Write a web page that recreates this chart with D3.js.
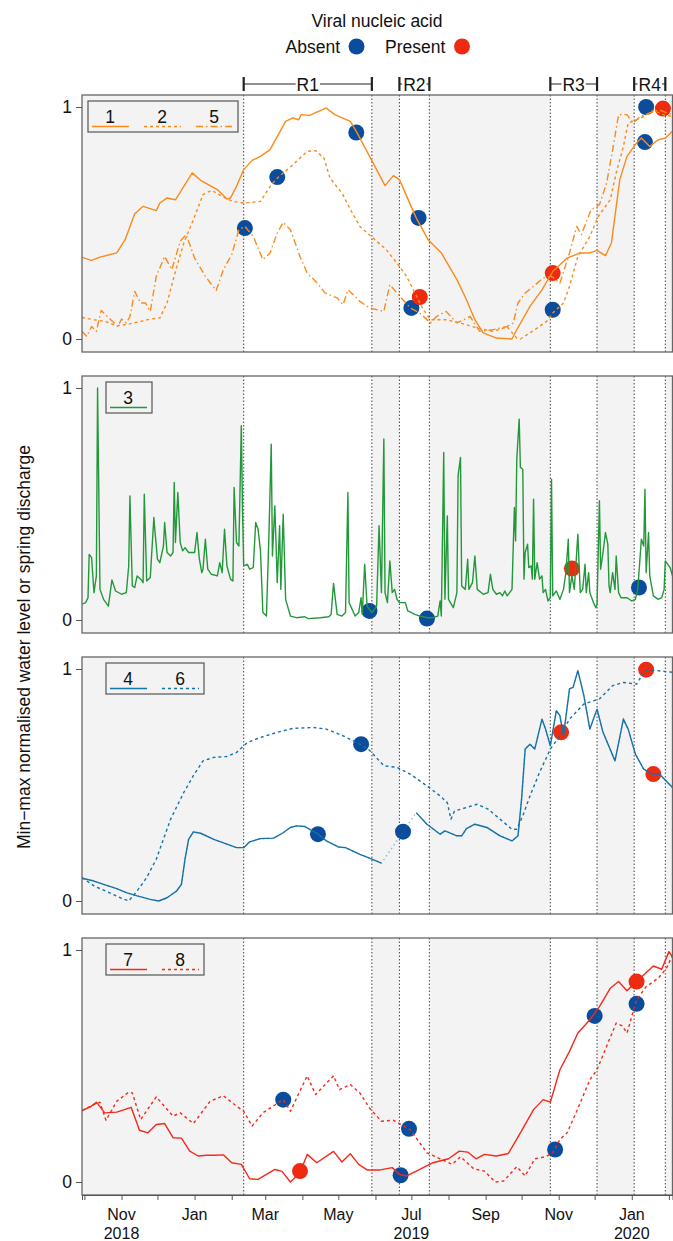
<!DOCTYPE html>
<html>
<head>
<meta charset="utf-8">
<script src="https://cdn.jsdelivr.net/npm/d3@7"></script>
<style>
  body { margin: 0; background: #fff; }
  svg { display: block; font-family: "Liberation Sans", Arial, sans-serif; }
</style>
</head>
<body>
<div id="chart"></div>
<script>
// all days are counted from 1 Oct 2018, values are min-max normalised
const series1 = [[-2,.352],[6,.339],[13,.353],[27,.371],[34,.428],[42,.54],[49,.572],[60,.553],[63,.586],[69,.608],[76,.6],[90,.716],[97,.684],[111,.644],[119,.603],[122,.608],[127,.658],[133,.73],[140,.77],[147,.787],[155,.816],[168,.938],[174,.953],[179,.945],[181,.967],[188,.964],[202,.996],[209,.967],[222,.938],[227,.895],[241,.759],[251,.661],[258,.704],[263,.687],[277,.522],[287,.428],[298,.371],[311,.256],[319,.169],[326,.083],[333,.026],[344,.004],[357,0],[361,.04],[372,.141],[382,.212],[391,.291],[403,.349],[414,.371],[422,.371],[428,.382],[435,.359],[440,.414],[447,.687],[453,.787],[461,.845],[465,.866],[472,.83],[479,.859],[485,.866],[491,.895]];
const series2 = [[-2,.093],[8,.083],[17,.076],[27,.057],[35,.062],[47,.076],[55,.086],[63,.091],[69,.155],[76,.291],[83,.414],[91,.514],[99,.622],[106,.641],[116,.612],[124,.593],[133,.586],[147,.593],[156,.665],[162,.698],[174,.751],[186,.809],[193,.812],[200,.78],[205,.694],[215,.629],[223,.55],[230,.485],[241,.435],[252,.385],[262,.32],[269,.27],[276,.198],[283,.126],[289,.083],[302,.083],[314,.069],[328,.047],[341,.033],[353,.052],[361,.004],[364,0],[376,.04],[386,.076],[391,.112],[400,.155],[405,.227],[412,.356],[422,.442],[429,.528],[439,.6],[444,.716],[450,.83],[454,.931],[461,.945],[467,.959],[475,.985],[483,.967],[491,.959]];
const series5 = [[-2,.033],[2,.011],[6,.054],[10,.033],[14,.123],[22,.083],[28,.054],[31,.086],[35,.069],[38,.097],[42,.205],[47,.155],[51,.155],[55,.119],[60,.27],[67,.356],[73,.299],[80,.421],[85,.45],[92,.349],[101,.27],[110,.209],[116,.299],[123,.363],[129,.471],[134,.485],[141,.442],[149,.342],[155,.371],[161,.457],[166,.503],[172,.471],[180,.356],[186,.284],[194,.244],[201,.198],[211,.177],[216,.148],[220,.212],[226,.184],[230,.162],[238,.134],[250,.119],[255,.234],[261,.198],[272,.134],[280,.112],[289,.069],[294,.097],[302,.119],[311,.069],[322,.097],[330,.033],[341,.04],[353,.054],[358,.069],[362,.155],[368,.198],[375,.227],[383,.263],[390,.27],[397,.241],[405,.371],[411,.485],[415,.45],[423,.557],[430,.579],[436,.672],[441,.816],[446,.967],[453,.967],[458,.931],[464,.959],[472,.974],[480,.987],[491,.967]];
const series3 = [[-2,.068],[1,.075],[3,.096],[4,.283],[6,.269],[8,.118],[10,.19],[11,1],[13,.132],[16,.089],[20,.06],[23,.173],[26,.125],[31,.111],[35,.118],[37,.233],[38,.535],[40,.147],[42,.14],[44,.19],[47,.176],[49,.161],[50,.542],[52,.168],[55,.183],[58,.442],[59,.377],[61,.262],[63,.247],[66,.319],[67,.42],[69,.291],[72,.276],[74,.291],[75,.593],[76,.334],[78,.55],[80,.334],[82,.298],[84,.312],[87,.291],[92,.291],[94,.377],[96,.262],[98,.204],[99,.219],[101,.348],[103,.219],[106,.197],[111,.19],[113,.247],[115,.204],[117,.391],[119,.233],[122,.176],[124,.168],[125,.571],[127,.334],[129,.319],[131,.837],[132,.478],[133,.233],[136,.24],[138,.219],[141,.226],[143,.42],[145,.391],[147,.298],[149,.032],[152,.017],[154,.355],[156,.758],[157,.276],[159,.492],[161,.161],[163,.406],[164,.132],[166,.456],[168,.089],[172,.017],[177,.01],[184,.014],[187,.006],[197,.01],[204,.014],[206,.024],[208,.158],[211,.024],[215,.017],[218,.032],[220,.55],[221,.075],[226,.017],[229,.032],[231,.096],[232,.024],[234,.24],[236,.06],[238,.046],[240,.032],[244,.06],[246,.406],[248,.118],[250,.78],[251,.118],[253,.075],[255,.255],[257,.118],[259,.132],[261,.089],[263,.075],[268,.075],[270,.039],[276,.024],[280,.017],[286,.01],[291,.01],[295,.017],[297,.082],[298,.017],[300,.722],[301,.089],[303,.449],[304,.089],[308,.053],[311,.118],[312,.622],[314,.701],[315,.147],[318,.132],[320,.262],[321,.132],[324,.161],[326,.276],[328,.132],[333,.111],[337,.118],[339,.197],[341,.132],[344,.111],[347,.118],[349,.104],[351,.125],[353,.104],[357,.132],[359,.485],[360,.341],[361,.694],[363,.866],[364,.658],[366,.65],[367,.176],[368,.291],[370,.327],[371,.226],[373,.233],[374,.176],[375,.521],[376,.176],[378,.247],[380,.176],[382,.19],[383,.118],[385,.132],[387,.082],[389,.096],[390,.607],[391,.104],[394,.125],[397,.089],[400,.132],[402,.204],[404,.348],[405,.118],[407,.19],[409,.132],[412,.37],[414,.118],[416,.132],[418,.24],[419,.118],[421,.204],[422,.118],[425,.075],[427,.053],[428,.068],[430,.514],[431,.219],[433,.291],[435,.377],[437,.327],[438,.147],[439,.118],[441,.204],[443,.132],[444,.276],[446,.118],[448,.096],[453,.096],[457,.082],[460,.089],[462,.132],[465,.348],[467,.319],[468,.564],[469,.204],[471,.377],[472,.19],[475,.104],[479,.089],[482,.096],[484,.132],[485,.255],[487,.24],[489,.226],[491,.19]];
// null marks the gap in the record of well 4
const series4 = [[-2,.098],[8,.086],[16,.072],[27,.053],[35,.036],[44,.022],[55,.007],[62,0],[69,.014],[77,.043],[81,.072],[84,.18],[87,.266],[91,.298],[97,.292],[108,.266],[119,.245],[127,.23],[133,.23],[138,.255],[147,.269],[158,.271],[165,.291],[172,.317],[177,.324],[184,.321],[194,.292],[202,.259],[212,.233],[218,.23],[230,.201],[238,.185],[248,.163],[262,null],[277,.381],[286,.331],[297,.288],[301,.302],[311,.281],[315,.281],[319,.312],[326,.331],[336,.317],[347,.281],[357,.259],[362,.281],[365,.439],[368,.655],[372,.676],[376,.655],[382,.784],[385,.741],[389,.669],[394,.82],[397,.799],[400,.712],[405,.914],[408,.921],[412,.993],[417,.885],[422,.741],[428,.827],[433,.727],[443,.604],[450,.784],[454,.741],[460,.633],[467,.568],[474,.547],[480,.547],[491,.489]];
const series6 = [[-2,.101],[8,.065],[22,.033],[30,.014],[37,0],[44,.043],[52,.101],[60,.18],[72,.353],[83,.468],[91,.54],[99,.604],[108,.619],[119,.623],[127,.64],[136,.683],[147,.705],[161,.727],[174,.744],[191,.748],[202,.741],[216,.712],[230,.676],[238,.65],[250,.583],[261,.576],[272,.547],[286,.496],[297,.453],[303,.424],[306,.353],[309,.388],[319,.403],[328,.417],[337,.396],[347,.353],[357,.309],[361,.309],[366,.367],[372,.453],[380,.554],[389,.655],[397,.712],[405,.784],[417,.849],[430,.871],[441,.928],[450,.942],[461,.935],[468,.993],[478,.993],[491,.986]];
const series7 = [[-2,.308],[5,.324],[10,.344],[17,.298],[27,.301],[39,.322],[46,.223],[53,.212],[60,.248],[67,.252],[74,.191],[81,.189],[88,.133],[95,.112],[102,.115],[109,.115],[116,.117],[123,.083],[131,.076],[138,.014],[145,.011],[152,.033],[159,.054],[165,.046],[172,0],[180,.04],[186,.119],[194,.083],[208,.132],[215,.086],[222,.122],[229,.076],[236,.052],[247,.052],[257,.062],[263,.033],[269,.026],[280,.054],[291,.083],[304,.1],[313,.133],[320,.129],[327,.1],[334,.119],[344,.112],[354,.123],[364,.212],[375,.312],[383,.355],[389,.344],[397,.484],[405,.563],[412,.642],[422,.699],[430,.756],[439,.835],[446,.864],[453,.824],[461,.864],[475,.931],[482,.917],[488,.993],[491,.971]];
const series8 = [[-2,.308],[8,.334],[13,.344],[18,.266],[27,.348],[37,.387],[40,.384],[47,.269],[60,.367],[74,.284],[80,.298],[91,.252],[105,.348],[116,.372],[127,.327],[133,.305],[140,.241],[149,.298],[166,.355],[172,.305],[186,.458],[193,.377],[208,.458],[213,.398],[222,.42],[230,.384],[238,.319],[248,.262],[258,.266],[272,.226],[286,.126],[297,.1],[307,.076],[314,.109],[325,.057],[334,.047],[343,0],[350,.004],[361,.066],[368,.026],[376,.1],[385,.109],[391,.126],[397,.183],[403,.212],[411,.305],[422,.441],[428,.484],[436,.585],[444,.685],[449,.673],[453,.642],[461,.785],[469,.842],[479,.878],[486,.921],[491,.978]];

// sampling results: [day, value, viral nucleic acid]
const markers1 = [[134,.478,"Absent"],[161,.698,"Absent"],[227,.89,"Absent"],[273,.134,"Absent"],[279,.522,"Absent"],[280,.181,"Present"],[391,.284,"Present"],[391,.126,"Absent"],[468,.849,"Absent"],[469,1,"Absent"],[483,.993,"Present"]];
const markers2 = [[238,.039,"Absent"],[286,.006,"Absent"],[407,.222,"Present"],[463,.14,"Absent"]];
const markers3 = [[195,.288,"Absent"],[231,.676,"Absent"],[266,.299,"Absent"],[398,.727,"Present"],[469,.997,"Present"],[475,.547,"Present"]];
const markers4 = [[166,.355,"Absent"],[180,.047,"Present"],[264,.029,"Absent"],[271,.229,"Absent"],[393,.14,"Absent"],[426,.716,"Absent"],[461,.864,"Present"],[461,.768,"Absent"]];

const samplingDays = [133, 240, 263, 288, 389, 428, 459, 485];
const campaignNames = ["R1", "R2", "R3", "R4"];
const campaignStart = [133, 263, 389, 459];
const campaignEnd = [240, 288, 428, 485];

const statusNames = ["Absent", "Present"];
const statusColors = ["#0b4c9c", "#ee2a10"];

const xLabelDays = [31, 92, 151, 212, 273, 335, 396, 457];
const xLabelMonths = ["Nov", "Jan", "Mar", "May", "Jul", "Sep", "Nov", "Jan"];
const xLabelYears = ["2018", "", "", "", "2019", "", "", "2020"];

const W = 673, H = 1241;
const day0 = new Date(2018, 9, 1);
const toDate = n => d3.timeDay.offset(day0, n);
const fontSize = "17.5px";

const x = d3.scaleTime()
  .domain([toDate(-2), toDate(491)])
  .range([82, 672.5]);

const statusColor = d3.scaleOrdinal().domain(statusNames).range(statusColors);

const orange = "#fb8a1a", green = "#22983a", blue = "#1572a6", red = "#f6281a";
const panels = [
  {lines: [
    {name: "1", data: series1, color: orange, dash: null},
    {name: "2", data: series2, color: orange, dash: "3,3"},
    {name: "5", data: series5, color: orange, dash: "7,3,1.5,3"}],
   markers: markers1, legendX: 88},
  {lines: [{name: "3", data: series3, color: green, dash: null}],
   markers: markers2, legendX: 106},
  {lines: [
    {name: "4", data: series4, color: blue, dash: null},
    {name: "6", data: series6, color: blue, dash: "3,3"}],
   markers: markers3, legendX: 106},
  {lines: [
    {name: "7", data: series7, color: red, dash: null},
    {name: "8", data: series8, color: red, dash: "3,3"}],
   markers: markers4, legendX: 106}
];

const panelTop = i => 95 + i * 281;
const panelH = 257;

const svg = d3.select("#chart").append("svg")
  .attr("width", W)
  .attr("height", H)
  .style("font-size", fontSize);

// legend for the virus markers
svg.append("text")
  .attr("x", 377).attr("y", 27)
  .attr("text-anchor", "middle")
  .attr("fill", "#111")
  .text("Viral nucleic acid");

const keyX = [340, 385];
statusNames.forEach((s, i) => {
  const t = svg.append("text")
    .attr("y", 53)
    .attr("fill", "#111")
    .text(s);
  if (i === 0) {
    t.attr("x", keyX[0]).attr("text-anchor", "end");
    svg.append("circle").attr("cx", keyX[0] + 16.5).attr("cy", 46.5).attr("r", 8).attr("fill", statusColor(s));
  } else {
    t.attr("x", keyX[1]);
    svg.append("circle").attr("cx", keyX[1] + 77).attr("cy", 46.5).attr("r", 8).attr("fill", statusColor(s));
  }
});

// campaign brackets
const brackets = svg.append("g").attr("stroke", "#222");
campaignNames.forEach((name, i) => {
  const x0 = x(toDate(campaignStart[i])), x1 = x(toDate(campaignEnd[i]));
  const cx = (x0 + x1) / 2;
  const t = svg.append("text")
    .attr("x", cx).attr("y", 90.5)
    .attr("text-anchor", "middle")
    .attr("fill", "#111")
    .text(name);
  const tw = t.node().getComputedTextLength();
  brackets.append("line").attr("x1", x0).attr("x2", x0).attr("y1", 77).attr("y2", 91).attr("stroke-width", 2.2);
  brackets.append("line").attr("x1", x1).attr("x2", x1).attr("y1", 77).attr("y2", 91).attr("stroke-width", 2.2);
  if (cx - tw / 2 - 1 > x0 + 2) {
    brackets.append("line").attr("x1", x0).attr("x2", cx - tw / 2 - 1).attr("y1", 84).attr("y2", 84).attr("stroke-width", 1);
    brackets.append("line").attr("x1", cx + tw / 2 + 1).attr("x2", x1).attr("y1", 84).attr("y2", 84).attr("stroke-width", 1);
  }
});

// y axis title
svg.append("text")
  .attr("transform", "translate(30," + 647 + ") rotate(-90)")
  .attr("text-anchor", "middle")
  .attr("fill", "#111")
  .text("Min\u2212max normalised water level or spring discharge");

// shaded periods are the gaps between the campaigns
const shadeStart = [-2].concat(campaignEnd);
const shadeEnd = campaignStart.concat([491]);

panels.forEach((p, i) => {
  const top = panelTop(i);
  const y = d3.scaleLinear().domain([0, 1]).range([top + panelH - 13, top + 12]);
  const g = svg.append("g");
  const clipId = "clip" + i;
  svg.append("clipPath").attr("id", clipId)
    .append("rect").attr("x", 82).attr("y", top).attr("width", 672.5 - 82).attr("height", panelH);

  g.selectAll("rect.shade")
    .data(d3.range(shadeStart.length))
    .enter().append("rect")
    .attr("class", "shade")
    .attr("x", k => x(toDate(shadeStart[k])))
    .attr("width", k => x(toDate(shadeEnd[k])) - x(toDate(shadeStart[k])))
    .attr("y", top)
    .attr("height", panelH)
    .attr("fill", "#f3f3f3");

  g.selectAll("line.sample")
    .data(samplingDays)
    .enter().append("line")
    .attr("class", "sample")
    .attr("x1", d => x(toDate(d))).attr("x2", d => x(toDate(d)))
    .attr("y1", top).attr("y2", top + panelH)
    .attr("stroke", "#444")
    .attr("stroke-width", 1)
    .attr("stroke-dasharray", "1.5,2");

  const plot = g.append("g").attr("clip-path", "url(#" + clipId + ")");

  plot.selectAll("circle")
    .data(p.markers)
    .enter().append("circle")
    .attr("cx", d => x(toDate(d[0])))
    .attr("cy", d => y(d[1]))
    .attr("r", 8)
    .attr("fill", d => statusColor(d[2]));

  const line = d3.line()
    .defined(d => d[1] !== null)
    .x(d => x(toDate(d[0])))
    .y(d => y(d[1]));

  p.lines.forEach(s => {
    if (s.data.some(d => d[1] === null)) {
      // faint link across the missing record
      plot.append("path")
        .attr("d", line(s.data.filter(d => d[1] !== null)))
        .attr("fill", "none")
        .attr("stroke", s.color)
        .attr("stroke-opacity", 0.45)
        .attr("stroke-width", 1.4)
        .attr("stroke-dasharray", "1.5,3");
    }
    plot.append("path")
      .attr("d", line(s.data))
      .attr("fill", "none")
      .attr("stroke", s.color)
      .attr("stroke-width", 1.4)
      .attr("stroke-linejoin", "round")
      .attr("stroke-dasharray", s.dash);
  });

  // series legend box
  const n = p.lines.length;
  const lg = g.append("g").attr("transform", "translate(" + p.legendX + "," + (top + 6) + ")");
  lg.append("rect")
    .attr("width", n * 52 - 6).attr("height", 31)
    .attr("fill", "none")
    .attr("stroke", "#555").attr("stroke-width", 1.2);
  p.lines.forEach((s, k) => {
    const cx = 22 + k * 52;
    lg.append("text")
      .attr("x", cx).attr("y", 21.5)
      .attr("text-anchor", "middle")
      .attr("fill", "#111")
      .text(s.name);
    lg.append("line")
      .attr("x1", cx - 18).attr("x2", cx + 19)
      .attr("y1", 25.5).attr("y2", 25.5)
      .attr("stroke", s.color).attr("stroke-width", 1.5)
      .attr("stroke-dasharray", s.dash);
  });

  // frame
  g.append("rect")
    .attr("x", 82).attr("y", top)
    .attr("width", 672.5 - 82).attr("height", panelH)
    .attr("fill", "none")
    .attr("stroke", "#666").attr("stroke-width", 1.3);

  const yAxis = g.append("g")
    .attr("transform", "translate(82,0)")
    .call(d3.axisLeft(y).tickValues([0, 1]).tickSize(6).tickPadding(4).tickFormat(d3.format("d")));
  yAxis.select(".domain").remove();
  yAxis.selectAll("line").attr("stroke", "#555");
  yAxis.selectAll("text")
    .attr("font-size", fontSize)
    .attr("font-family", "Liberation Sans, Arial, sans-serif")
    .attr("fill", "#111");

  if (i === panels.length - 1) {
    const bottom = top + panelH;
    const xAxis = g.append("g")
      .attr("transform", "translate(0," + bottom + ")")
      .call(d3.axisBottom(x).ticks(d3.timeMonth.every(1)).tickSize(5).tickFormat(""));
    xAxis.select(".domain").attr("stroke", "#555");
    xAxis.selectAll("line").attr("stroke", "#555");

    // month on one line, year (where given) just below it
    const tickFont = "16px";
    g.selectAll("text.xmonth")
      .data(d3.range(xLabelDays.length))
      .enter().append("text")
      .attr("class", "xmonth")
      .attr("x", k => x(toDate(xLabelDays[k])))
      .attr("y", bottom + 25)
      .attr("font-size", tickFont)
      .attr("text-anchor", "middle")
      .attr("fill", "#111")
      .text(k => xLabelMonths[k]);
    g.selectAll("text.xyear")
      .data(d3.range(xLabelDays.length).filter(k => xLabelYears[k]))
      .enter().append("text")
      .attr("class", "xyear")
      .attr("x", k => x(toDate(xLabelDays[k])))
      .attr("y", bottom + 43.5)
      .attr("font-size", tickFont)
      .attr("text-anchor", "middle")
      .attr("fill", "#111")
      .text(k => xLabelYears[k]);
  }
});
</script>
</body>
</html>
